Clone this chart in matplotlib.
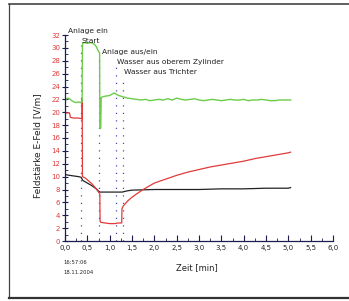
import matplotlib
matplotlib.use("Agg")
import matplotlib.pyplot as plt
from matplotlib.lines import Line2D
from matplotlib.ticker import MultipleLocator, FuncFormatter

# ---- data ----
green_x = [0.0, 0.0, 0.02, 0.06, 0.10, 0.15, 0.20, 0.25, 0.30, 0.35, 0.385, 0.385, 0.39, 0.40,
           0.45, 0.50, 0.55, 0.60, 0.65, 0.70, 0.74, 0.775, 0.78, 0.80, 0.81, 0.85, 0.90, 1.00,
           1.05, 1.10, 1.15, 1.20, 1.30, 1.40, 1.50, 1.60, 1.70, 1.80, 1.90, 2.00, 2.10, 2.20,
           2.30, 2.40, 2.50, 2.60, 2.70, 2.80, 2.90, 3.00, 3.10, 3.20, 3.30, 3.40, 3.50, 3.60,
           3.70, 3.80, 3.90, 4.00, 4.10, 4.20, 4.30, 4.40, 4.50, 4.60, 4.70, 4.80, 4.90, 5.00, 5.05]
green_y = [10.3, 21.7, 22.0, 22.2, 22.1, 21.8, 21.6, 21.5, 21.6, 21.5, 21.6, 25.5, 30.2, 30.8,
           30.8, 30.7, 30.8, 30.8, 30.6, 30.2, 29.6, 29.2, 17.5, 17.5, 22.3, 22.4, 22.5, 22.6,
           22.8, 23.0, 22.8, 22.6, 22.4, 22.2, 22.1, 22.0, 21.9, 22.0, 21.8, 21.9, 22.0, 21.9,
           22.1, 21.9, 22.2, 22.0, 21.9, 22.0, 22.1, 21.9, 21.8, 21.9, 22.0, 21.9, 21.8, 21.9,
           22.0, 21.9, 21.9, 22.0, 21.8, 21.9, 21.9, 22.0, 21.9, 21.8, 21.8, 21.9, 21.9, 21.9, 21.9]

red_x = [0.0, 0.10, 0.12, 0.20, 0.30, 0.385, 0.385, 0.39, 0.45, 0.50, 0.55, 0.60, 0.65, 0.70,
         0.75, 0.78, 0.785, 0.80, 0.90, 1.00, 1.10, 1.20, 1.27, 1.275, 1.30, 1.40, 1.50, 1.60,
         1.75, 2.00, 2.25, 2.50, 2.75, 3.00, 3.25, 3.50, 3.75, 4.00, 4.25, 4.50, 4.75, 5.00, 5.05]
red_y = [19.9, 19.9, 19.2, 19.1, 19.1, 19.0, 22.0, 10.0, 9.8, 9.5, 9.2, 8.9, 8.5, 8.1,
         7.6, 7.3, 3.1, 2.9, 2.8, 2.7, 2.7, 2.8, 2.8, 5.0, 5.4, 6.2, 6.8, 7.3,
         8.0, 9.0, 9.6, 10.2, 10.7, 11.1, 11.5, 11.8, 12.1, 12.4, 12.8, 13.1, 13.4, 13.7, 13.8]

black_x = [0.0, 0.0, 0.02, 0.10, 0.20, 0.30, 0.36, 0.40, 0.50, 0.60, 0.70, 0.76, 0.78, 1.00,
           1.28, 1.40, 1.50, 2.00, 2.50, 3.00, 3.50, 4.00, 4.50, 5.00, 5.05]
black_y = [3.6, 10.3, 10.3, 10.2, 10.1, 10.0, 9.9, 9.4, 9.0, 8.6, 8.1, 7.7, 7.6, 7.6,
           7.6, 7.8, 7.9, 8.0, 8.0, 8.0, 8.1, 8.1, 8.2, 8.2, 8.3]

event_x = [0.36, 0.76, 1.14, 1.30]
event_top = [30.4, 28.5, 27.3, 25.6]

ann_text = ["Anlage ein", "Start", "Anlage aus/ein", "Wasser aus oberem Zylinder", "Wasser aus Trichter"]
ann_x = [0.07, 0.38, 0.83, 1.16, 1.32]
ann_y = [32.6, 31.05, 29.3, 27.8, 26.2]

# ---- figure ----
W, H = 349, 301
fig = plt.figure(figsize=(W / 100, H / 100), dpi=100)
ax = fig.add_axes([65 / W, 1 - 241 / H, (333 - 65) / W, (241 - 35) / H])

GREEN = "#6ccc4a"
RED = "#e23a3a"
BLACK = "#222222"
NAVY = "#1c1c50"

for xv, top in zip(event_x, event_top):
    ax.plot([xv, xv], [0, top], linestyle=(0, (1, 5)), color="#4a4ab8", lw=0.9)

ax.plot(black_x, black_y, color=BLACK, lw=0.9)
ax.plot(red_x, red_y, color=RED, lw=0.9)
ax.plot(green_x, green_y, color=GREEN, lw=1.0)

for t, xv, yv in zip(ann_text, ann_x, ann_y):
    ax.text(xv, yv, t, fontsize=5.4, color="#222222", ha="left", va="center")

ax.set_xlim(0, 6)
ax.set_ylim(0, 32)
ax.xaxis.set_major_locator(MultipleLocator(0.5))
ax.xaxis.set_minor_locator(MultipleLocator(0.25))
ax.yaxis.set_major_locator(MultipleLocator(2))
ax.yaxis.set_minor_locator(MultipleLocator(1))
ax.xaxis.set_major_formatter(FuncFormatter(lambda v, p: f"{v:.1f}".replace(".", ",")))
ax.yaxis.set_major_formatter(FuncFormatter(lambda v, p: f"{int(round(v))}"))

for s in ["top", "right"]:
    ax.spines[s].set_visible(False)
for s in ["left", "bottom"]:
    ax.spines[s].set_color(NAVY)
    ax.spines[s].set_linewidth(0.9)

ax.tick_params(axis="y", which="major", direction="inout", length=4, width=0.8,
               colors=NAVY, labelcolor=RED, labelsize=5, pad=1.5)
ax.tick_params(axis="y", which="minor", direction="in", length=2, width=0.6, colors=NAVY)
ax.tick_params(axis="x", which="major", direction="in", length=4, width=0.8,
               colors=NAVY, labelcolor="#222222", labelsize=5, pad=3)
ax.tick_params(axis="x", which="minor", direction="in", length=2.5, width=0.6, colors=NAVY)
ax.set_facecolor("white")

fig.text(38 / W, 1 - 146 / H, "Feldstärke E-Feld [V/m]", rotation=90, fontsize=6.5,
         ha="center", va="center", color="#222222")
fig.text(197 / W, 1 - 268 / H, "Zeit [min]", fontsize=6, ha="center", va="center", color="#222222")
fig.text(63 / W, 1 - 263 / H, "16:57:06", fontsize=3.8, ha="left", va="center", color="#222222")
fig.text(63 / W, 1 - 273 / H, "18.11.2004", fontsize=3.8, ha="left", va="center", color="#222222")

# outer frame
fig.add_artist(Line2D([9 / W, 1.0], [1 - 4 / H, 1 - 4 / H], transform=fig.transFigure,
                      color="#444444", lw=1.2))
fig.add_artist(Line2D([9 / W, 9 / W], [1 - 4 / H, 1 - 298 / H], transform=fig.transFigure,
                      color="#444444", lw=0.9))
fig.add_artist(Line2D([9 / W, 1.0], [1 - 298 / H, 1 - 298 / H], transform=fig.transFigure,
                      color="#333333", lw=1.6))

fig.savefig("out.png", dpi=100, facecolor="white")
